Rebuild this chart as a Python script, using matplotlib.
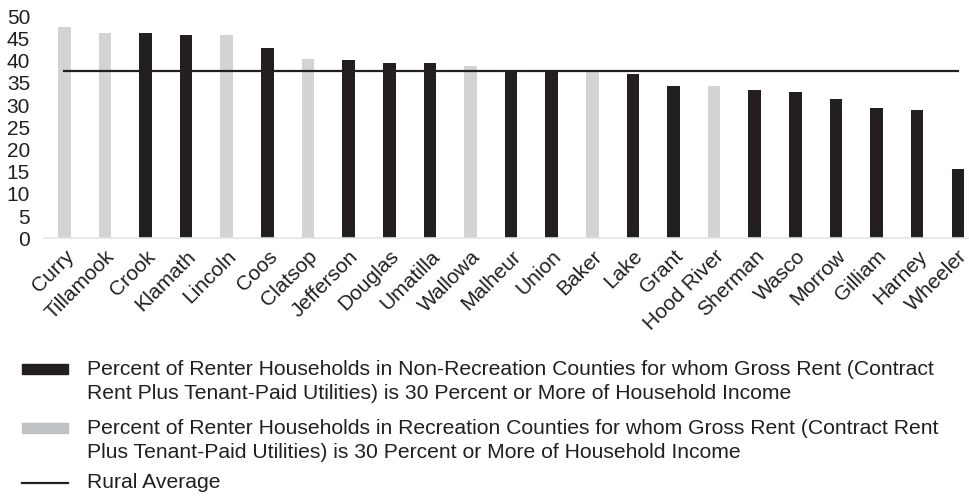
import matplotlib
matplotlib.use("Agg")
import matplotlib.pyplot as plt
from matplotlib.patches import Rectangle
from matplotlib.lines import Line2D

plt.rcParams['font.family'] = ['Liberation Sans', 'DejaVu Sans']

counties = ["Curry", "Tillamook", "Crook", "Klamath", "Lincoln", "Coos", "Clatsop",
            "Jefferson", "Douglas", "Umatilla", "Wallowa", "Malheur", "Union", "Baker",
            "Lake", "Grant", "Hood River", "Sherman", "Wasco", "Morrow", "Gilliam",
            "Harney", "Wheeler"]
values = [47.5, 46.2, 46.2, 45.8, 45.8, 42.8, 40.4, 40.1, 39.4, 39.4, 38.7, 37.9,
          37.9, 37.5, 37.1, 34.4, 34.4, 33.5, 32.9, 31.3, 29.4, 28.8, 15.6]
recreation = [True, True, False, False, True, False, True, False, False, False, True,
              False, False, True, False, False, True, False, False, False, False,
              False, False]
rural_average = 37.6
yticks = [0, 5, 10, 15, 20, 25, 30, 35, 40, 45, 50]

label_nonrec = ("Percent of Renter Households in Non-Recreation Counties for whom Gross Rent (Contract\n"
                "Rent Plus Tenant-Paid Utilities) is 30 Percent or More of Household Income")
label_rec = ("Percent of Renter Households in Recreation Counties for whom Gross Rent (Contract Rent\n"
             "Plus Tenant-Paid Utilities) is 30 Percent or More of Household Income")
label_avg = "Rural Average"

DARK = "#231f20"
LIGHT = "#d1d3d4"
LEG_LIGHT = "#bfc1c3"

W, H = 970, 499
fig = plt.figure(figsize=(W / 100, H / 100), dpi=100)
ax = fig.add_axes([44 / W, 1 - 238.3 / H, 1 - 44 / W, (238.3 - 16.3) / H])

x = list(range(len(counties)))
colors = [LIGHT if r else DARK for r in recreation]
ax.bar(x, values, width=0.31, color=colors, zorder=2)
ax.plot([x[0], x[-1]], [rural_average, rural_average], color=DARK, lw=1.6, zorder=3)

ax.set_xlim(-0.5, 22.3)
ax.set_ylim(0, 50)
ax.set_yticks(yticks)
ax.set_yticklabels([str(t) for t in yticks], fontsize=15, color=DARK)
ax.set_xticks(x)
ax.set_xticklabels(counties, rotation=45, ha='right', rotation_mode='anchor',
                   fontsize=15, color=DARK)
ax.tick_params(axis='both', length=0)
ax.tick_params(axis='y', pad=10)
ax.tick_params(axis='x', pad=6)
for s in ['top', 'right', 'left']:
    ax.spines[s].set_visible(False)
ax.spines['bottom'].set_color('#e3e4e5')
ax.spines['bottom'].set_linewidth(1.2)

# Legend (manual layout)
def fy(py):
    return 1 - py / H

fs = 15.2
items = [
    (DARK, label_nonrec, 369, 381.5, 'patch'),
    (LEG_LIGHT, label_rec, 428, 440.5, 'patch'),
    (DARK, label_avg, 483, 482, 'line'),
]
for col, lab, hy, ty, kind in items:
    if kind == 'patch':
        fig.add_artist(Rectangle((22 / W, fy(hy + 5)), 46 / W, 10 / H,
                                 transform=fig.transFigure, color=col))
    else:
        fig.add_artist(Line2D([22 / W, 68 / W], [fy(hy), fy(hy)],
                              transform=fig.transFigure, color=col, lw=1.6))
    fig.text(87 / W, fy(ty), lab, fontsize=fs, color=DARK, va='center', ha='left',
             linespacing=1.36)

fig.savefig("out.png", dpi=100)
